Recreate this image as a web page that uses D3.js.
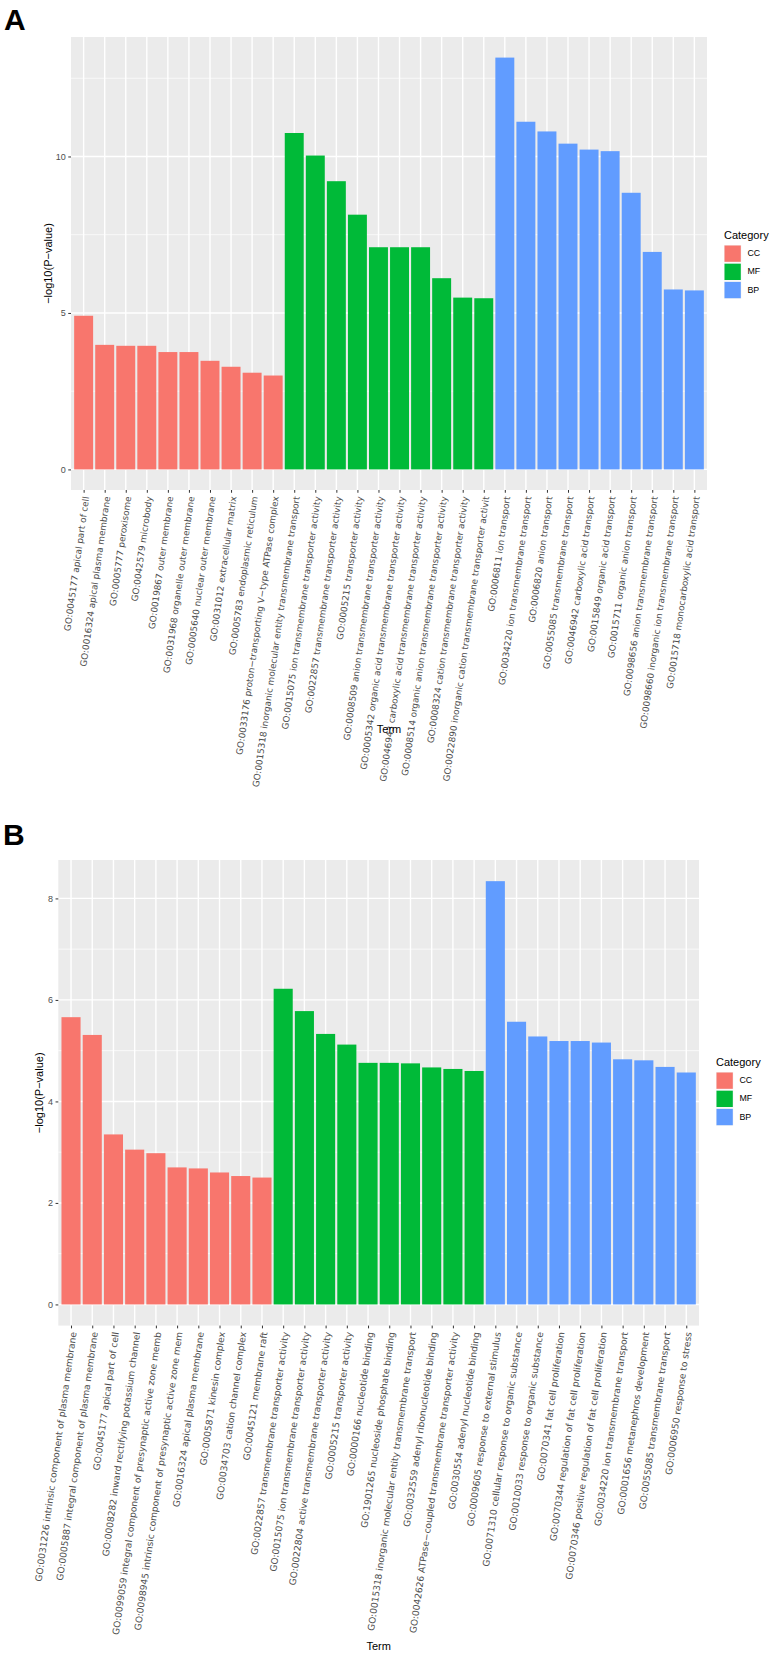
<!DOCTYPE html>
<html>
<head>
<meta charset="utf-8">
<script src="https://cdn.jsdelivr.net/npm/d3@7"></script>
<style>
  html, body { margin: 0; padding: 0; background: #fff; }
  svg { display: block; font-family: "Liberation Sans", Arial, sans-serif; }
</style>
</head>
<body>
<svg id="chart" width="770" height="1654"></svg>
<script>
// ---------- data ----------
const legendCategories = ["CC", "MF", "BP"];
const legendColors = ["#F8766D", "#00BA38", "#619CFF"];

const termsA = [
  "GO:0045177 apical part of cell",
  "GO:0016324 apical plasma membrane",
  "GO:0005777 peroxisome",
  "GO:0042579 microbody",
  "GO:0019867 outer membrane",
  "GO:0031968 organelle outer membrane",
  "GO:0005640 nuclear outer membrane",
  "GO:0031012 extracellular matrix",
  "GO:0005783 endoplasmic reticulum",
  "GO:0033176 proton\u2212transporting V\u2212type ATPase complex",
  "GO:0015318 inorganic molecular entity transmembrane transport",
  "GO:0015075 ion transmembrane transporter activity",
  "GO:0022857 transmembrane transporter activity",
  "GO:0005215 transporter activity",
  "GO:0008509 anion transmembrane transporter activity",
  "GO:0005342 organic acid transmembrane transporter activity",
  "GO:0046943 carboxylic acid transmembrane transporter activity",
  "GO:0008514 organic anion transmembrane transporter activity",
  "GO:0008324 cation transmembrane transporter activity",
  "GO:0022890 inorganic cation transmembrane transporter activit",
  "GO:0006811 ion transport",
  "GO:0034220 ion transmembrane transport",
  "GO:0006820 anion transport",
  "GO:0055085 transmembrane transport",
  "GO:0046942 carboxylic acid transport",
  "GO:0015849 organic acid transport",
  "GO:0015711 organic anion transport",
  "GO:0098656 anion transmembrane transport",
  "GO:0098660 inorganic ion transmembrane transport",
  "GO:0015718 monocarboxylic acid transport"
];
const valuesA = [
  4.91, 3.98, 3.95, 3.95, 3.75, 3.75, 3.47, 3.28, 3.09, 3.00,
  10.75, 10.03, 9.21, 8.14, 7.10, 7.10, 7.10, 6.11, 5.49, 5.47,
  13.16, 11.11, 10.80, 10.41, 10.22, 10.17, 8.84, 6.95, 5.75, 5.72
];
const groupsA = [
  "CC","CC","CC","CC","CC","CC","CC","CC","CC","CC",
  "MF","MF","MF","MF","MF","MF","MF","MF","MF","MF",
  "BP","BP","BP","BP","BP","BP","BP","BP","BP","BP"
];
const majorTicksA = [0, 5, 10];
const minorTicksA = [2.5, 7.5, 12.5];

const termsB = [
  "GO:0031226 intrinsic component of plasma membrane",
  "GO:0005887 integral component of plasma membrane",
  "GO:0045177 apical part of cell",
  "GO:0008282 inward rectifying potassium channel",
  "GO:0099059 integral component of presynaptic active zone memb",
  "GO:0098945 intrinsic component of presynaptic active zone mem",
  "GO:0016324 apical plasma membrane",
  "GO:0005871 kinesin complex",
  "GO:0034703 cation channel complex",
  "GO:0045121 membrane raft",
  "GO:0022857 transmembrane transporter activity",
  "GO:0015075 ion transmembrane transporter activity",
  "GO:0022804 active transmembrane transporter activity",
  "GO:0005215 transporter activity",
  "GO:0000166 nucleotide binding",
  "GO:1901265 nucleoside phosphate binding",
  "GO:0015318 inorganic molecular entity transmembrane transport",
  "GO:0032559 adenyl ribonucleotide binding",
  "GO:0042626 ATPase\u2212coupled transmembrane transporter activity",
  "GO:0030554 adenyl nucleotide binding",
  "GO:0009605 response to external stimulus",
  "GO:0071310 cellular response to organic substance",
  "GO:0010033 response to organic substance",
  "GO:0070341 fat cell proliferation",
  "GO:0070344 regulation of fat cell proliferation",
  "GO:0070346 positive regulation of fat cell proliferation",
  "GO:0034220 ion transmembrane transport",
  "GO:0001656 metanephros development",
  "GO:0055085 transmembrane transport",
  "GO:0006950 response to stress"
];
const valuesB = [
  5.66, 5.31, 3.35, 3.05, 2.98, 2.70, 2.68, 2.60, 2.53, 2.50,
  6.22, 5.78, 5.33, 5.12, 4.76, 4.76, 4.75, 4.67, 4.64, 4.60,
  8.34, 5.57, 5.28, 5.19, 5.19, 5.16, 4.83, 4.81, 4.68, 4.57
];
const groupsB = groupsA.slice();
const majorTicksB = [0, 2, 4, 6, 8];
const minorTicksB = [1, 3, 5, 7];

// ---------- drawing ----------
const svg = d3.select("#chart");
const color = d3.scaleOrdinal().domain(legendCategories).range(legendColors);

function drawPanel(cfg) {
  const g = svg.append("g");
  const data = cfg.terms.map((t, i) => ({ term: t, value: cfg.values[i], group: cfg.groups[i] }));
  const maxV = d3.max(cfg.values);

  const x = d3.scalePoint().domain(cfg.terms).range([cfg.left, cfg.right]).padding(0.6);
  const y = d3.scaleLinear().domain([-0.05 * maxV, 1.05 * maxV]).range([cfg.bottom, cfg.top]);
  const bw = x.step() * 0.9;

  // panel label
  g.append("text").attr("x", cfg.labelX).attr("y", cfg.labelY)
    .attr("font-size", 30).attr("font-weight", "bold").attr("fill", "#000")
    .text(cfg.label);

  // background
  g.append("rect").attr("x", cfg.left).attr("y", cfg.top)
    .attr("width", cfg.right - cfg.left).attr("height", cfg.bottom - cfg.top)
    .attr("fill", "#EBEBEB");

  // minor gridlines
  g.selectAll(".minor").data(cfg.minor).join("line")
    .attr("x1", cfg.left).attr("x2", cfg.right)
    .attr("y1", d => y(d)).attr("y2", d => y(d))
    .attr("stroke", "#fff").attr("stroke-width", 0.7);
  // major gridlines
  g.selectAll(".majorY").data(cfg.major).join("line")
    .attr("x1", cfg.left).attr("x2", cfg.right)
    .attr("y1", d => y(d)).attr("y2", d => y(d))
    .attr("stroke", "#fff").attr("stroke-width", 1.4);
  g.selectAll(".majorX").data(cfg.terms).join("line")
    .attr("x1", d => x(d)).attr("x2", d => x(d))
    .attr("y1", cfg.top).attr("y2", cfg.bottom)
    .attr("stroke", "#fff").attr("stroke-width", 1.4);

  // bars
  g.selectAll(".bar").data(data).join("rect")
    .attr("x", d => x(d.term) - bw / 2)
    .attr("width", bw)
    .attr("y", d => y(d.value))
    .attr("height", d => y(0) - y(d.value))
    .attr("fill", d => color(d.group));

  // y axis
  const yAxis = d3.axisLeft(y).tickValues(cfg.major).tickSize(2.75).tickPadding(2.5).tickFormat(d3.format("d"));
  const ya = g.append("g").attr("transform", `translate(${cfg.left},0)`).call(yAxis);
  ya.select(".domain").remove();
  ya.selectAll(".tick line").attr("stroke", "#333").attr("stroke-width", 1);
  ya.selectAll(".tick text").attr("fill", "#4D4D4D").attr("font-size", 9)
    .attr("font-family", "Liberation Sans, Arial, sans-serif");

  // x axis
  const xAxis = d3.axisBottom(x).tickSize(2.75).tickFormat("");
  const xa = g.append("g").attr("transform", `translate(0,${cfg.bottom})`).call(xAxis);
  xa.select(".domain").remove();
  xa.selectAll(".tick line").attr("stroke", "#333").attr("stroke-width", 1);
  xa.selectAll(".tick").append("text")
    .attr("text-anchor", "end")
    .attr("dominant-baseline", "middle")
    .attr("fill", "#4D4D4D")
    .attr("font-size", cfg.labelSize)
    .attr("font-family", "DejaVu Sans, sans-serif")
    .attr("transform", "translate(2.5,6.5) rotate(-82)")
    .text(d => d);

  // axis titles
  g.append("text").attr("x", (cfg.left + cfg.right) / 2).attr("y", cfg.xTitleY)
    .attr("text-anchor", "middle").attr("font-size", 11).attr("fill", "#000")
    .text("Term");
  g.append("text")
    .attr("transform", `translate(${cfg.yTitleX},${(cfg.top + cfg.bottom) / 2}) rotate(-90)`)
    .attr("text-anchor", "middle").attr("dominant-baseline", "middle")
    .attr("font-size", 11).attr("fill", "#000")
    .text("\u2212log10(P\u2212value)");

  // legend
  const lg = g.append("g").attr("transform", `translate(${cfg.legX},${cfg.legY})`);
  lg.append("text").attr("x", 0).attr("y", 0).attr("font-size", 11).attr("fill", "#000").text("Category");
  const items = lg.selectAll(".item").data(legendCategories).join("g")
    .attr("transform", (d, i) => `translate(0,${6 + i * 18.2})`);
  items.append("rect").attr("width", 17.3).attr("height", 17.3).attr("fill", "#F2F2F2");
  items.append("rect").attr("x", 0.5).attr("y", 0.5).attr("width", 16.3).attr("height", 16.3).attr("fill", d => color(d));
  items.append("text").attr("x", 23.5).attr("y", 8.8).attr("dominant-baseline", "middle")
    .attr("font-size", 8.8).attr("fill", "#000").text(d => d);
}

drawPanel({
  label: "A", labelX: 4, labelY: 29.5,
  terms: termsA, values: valuesA, groups: groupsA,
  major: majorTicksA, minor: minorTicksA,
  left: 71, right: 707, top: 37, bottom: 490,
  labelSize: 8.9,
  xTitleY: 733, yTitleX: 49,
  legX: 724, legY: 239
});

drawPanel({
  label: "B", labelX: 3, labelY: 845,
  terms: termsB, values: valuesB, groups: groupsB,
  major: majorTicksB, minor: minorTicksB,
  left: 58.3, right: 699, top: 860, bottom: 1325.6,
  labelSize: 9.15,
  xTitleY: 1650, yTitleX: 40,
  legX: 716, legY: 1066
});
</script>
</body>
</html>
